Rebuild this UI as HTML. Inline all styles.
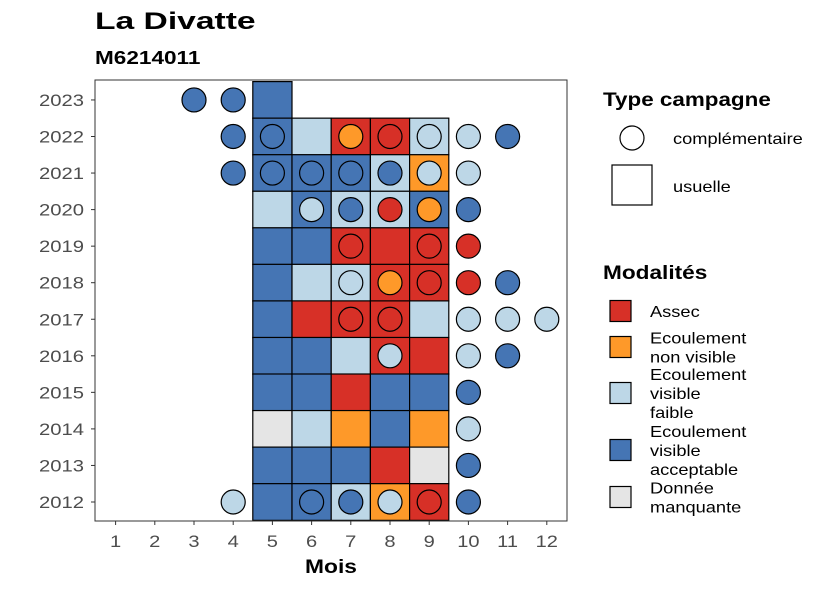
<!DOCTYPE html>
<html><head><meta charset="utf-8"><style>
body{margin:0;background:#fff;}
svg{display:block;font-family:"Liberation Sans",Arial,sans-serif;}
</style></head><body>
<svg id="chart" width="826" height="590" viewBox="0 0 826 590">
<text class="w" data-f="1.40" x="95" y="29" font-size="24" font-weight="bold">La Divatte</text>
<text class="w" data-f="1.22" x="95" y="64" font-size="18.5" font-weight="bold">M6214011</text>
<g id="plot"></g>
<rect x="95" y="80" width="472" height="441" fill="none" stroke="#333" stroke-width="1"/>
<g id="axes"></g>
<text class="w" data-f="1.2" x="331" y="573" font-size="19" font-weight="bold" text-anchor="middle">Mois</text>
<g>
<text class="w" data-f="1.18" x="603" y="106" font-size="19" font-weight="bold">Type campagne</text>
<circle cx="632" cy="138" r="12" fill="#fff" stroke="#000" stroke-width="1.2"/>
<text class="w" data-f="1.14" x="673" y="144" font-size="16">complémentaire</text>
<rect x="612" y="165" width="40" height="40" fill="#fff" stroke="#000" stroke-width="1.2"/>
<text class="w" data-f="1.14" x="673" y="192" font-size="16">usuelle</text>
</g>
<g id="legend2">
<text class="w" data-f="1.19" x="603" y="279" font-size="19" font-weight="bold">Modalités</text>
</g>
</svg>
<script>
const months=[1,2,3,4,5,6,7,8,9,10,11,12];
const years=[2012,2013,2014,2015,2016,2017,2018,2019,2020,2021,2022,2023];
const modalities=["Assec","Ecoulement non visible","Ecoulement visible faible","Ecoulement visible acceptable","Donnée manquante"];
const colors=["#d73027","#fe9929","#bdd7e7","#4575b4","#e5e5e5"];
// usual campaigns: [year, month, modality index]
const tileYear=[2023,2022,2022,2022,2022,2022,2021,2021,2021,2021,2021,2020,2020,2020,2020,2020,2019,2019,2019,2019,2019,2018,2018,2018,2018,2018,2017,2017,2017,2017,2017,2016,2016,2016,2016,2016,2015,2015,2015,2015,2015,2014,2014,2014,2014,2014,2013,2013,2013,2013,2013,2012,2012,2012,2012,2012];
const tileMonth=[5,5,6,7,8,9,5,6,7,8,9,5,6,7,8,9,5,6,7,8,9,5,6,7,8,9,5,6,7,8,9,5,6,7,8,9,5,6,7,8,9,5,6,7,8,9,5,6,7,8,9,5,6,7,8,9];
const tileMod=[3,3,2,0,0,2,3,3,3,2,1,2,3,2,2,3,3,3,0,0,0,3,2,2,0,0,3,0,0,0,2,3,3,2,0,0,3,3,0,3,3,4,2,1,3,1,3,3,3,0,4,3,3,2,1,0];
// complementary campaigns
const ptYear=[2023,2023,2022,2022,2022,2022,2022,2022,2022,2021,2021,2021,2021,2021,2021,2021,2020,2020,2020,2020,2020,2019,2019,2019,2018,2018,2018,2018,2018,2017,2017,2017,2017,2017,2016,2016,2016,2015,2014,2013,2012,2012,2012,2012,2012,2012];
const ptMonth=[3,4,4,5,7,8,9,10,11,4,5,6,7,8,9,10,6,7,8,9,10,7,9,10,7,8,9,10,11,7,8,10,11,12,8,10,11,10,10,10,4,6,7,8,9,10];
const ptMod=[3,3,3,3,1,0,2,2,3,3,3,3,3,3,2,2,2,3,0,1,3,0,0,0,2,1,0,0,3,0,0,2,2,2,2,2,3,3,2,3,2,3,3,2,0,3];

const NS="http://www.w3.org/2000/svg";
const xS=m=>115.6+39.2*(m-1);
const yS=y=>502-36.55*(y-2012);
const TW=39.2, TH=36.7;
const plot=document.getElementById('plot');
function mk(tag,attrs,parent){const e=document.createElementNS(NS,tag);for(const k in attrs)e.setAttribute(k,attrs[k]);parent.appendChild(e);return e;}
const clip=mk('clipPath',{id:'pc'},mk('defs',{},plot));
mk('rect',{x:95,y:80,width:472,height:441},clip);
const g=mk('g',{'clip-path':'url(#pc)'},plot);
for(let i=0;i<tileYear.length;i++){
  const r=mk('rect',{x:xS(tileMonth[i])-TW/2,y:yS(tileYear[i])-TH/2,width:TW,height:TH,fill:colors[tileMod[i]],stroke:'#000','stroke-width':1.2},g);
  
  
}
for(let i=0;i<ptYear.length;i++){
  const c=mk('circle',{cx:xS(ptMonth[i]),cy:yS(ptYear[i]),r:12,fill:colors[ptMod[i]],stroke:'#000','stroke-width':1.2},g);
  
  
}
const ax=document.getElementById('axes');
months.forEach(m=>{
  mk('line',{x1:xS(m),x2:xS(m),y1:521,y2:525,stroke:'#333'},ax);
  const t=mk('text',{x:xS(m),y:547,'font-size':17,'text-anchor':'middle',fill:'#4d4d4d',class:'w','data-f':1.18},ax);
  t.textContent=m;
  
  
});
years.forEach(y=>{
  mk('line',{x1:91,x2:95,y1:yS(y),y2:yS(y),stroke:'#333'},ax);
  const t=mk('text',{x:84,y:yS(y)+6,'font-size':17,'text-anchor':'end',fill:'#4d4d4d',class:'w','data-f':1.19},ax);
  t.textContent=y;
  
  
});
const lg=document.getElementById('legend2');
const legY=[311,347,393,450,497];
const legLines=[["Assec"],["Ecoulement","non visible"],["Ecoulement","visible","faible"],["Ecoulement","visible","acceptable"],["Donnée","manquante"]];
modalities.forEach((m,i)=>{
  const r=mk('rect',{x:610,y:legY[i]-10.5,width:21,height:21,fill:colors[i],stroke:'#000','stroke-width':1.2},lg);
  
  
  const L=legLines[i];const h=19;const y0=legY[i]-(L.length-1)*h/2+6;
  L.forEach((s,j)=>{
    const t=mk('text',{x:650,y:y0+j*h,'font-size':16,class:'w','data-f':1.14},lg);
    t.textContent=s;
    
    
  });
});
document.querySelectorAll('text.w').forEach(t=>{
  const f=parseFloat(t.getAttribute('data-f'));
  const L=t.getComputedTextLength();
  if(L>0){t.setAttribute('textLength',(L*f).toFixed(1));t.setAttribute('lengthAdjust','spacingAndGlyphs');}
});
</script>
</body></html>
